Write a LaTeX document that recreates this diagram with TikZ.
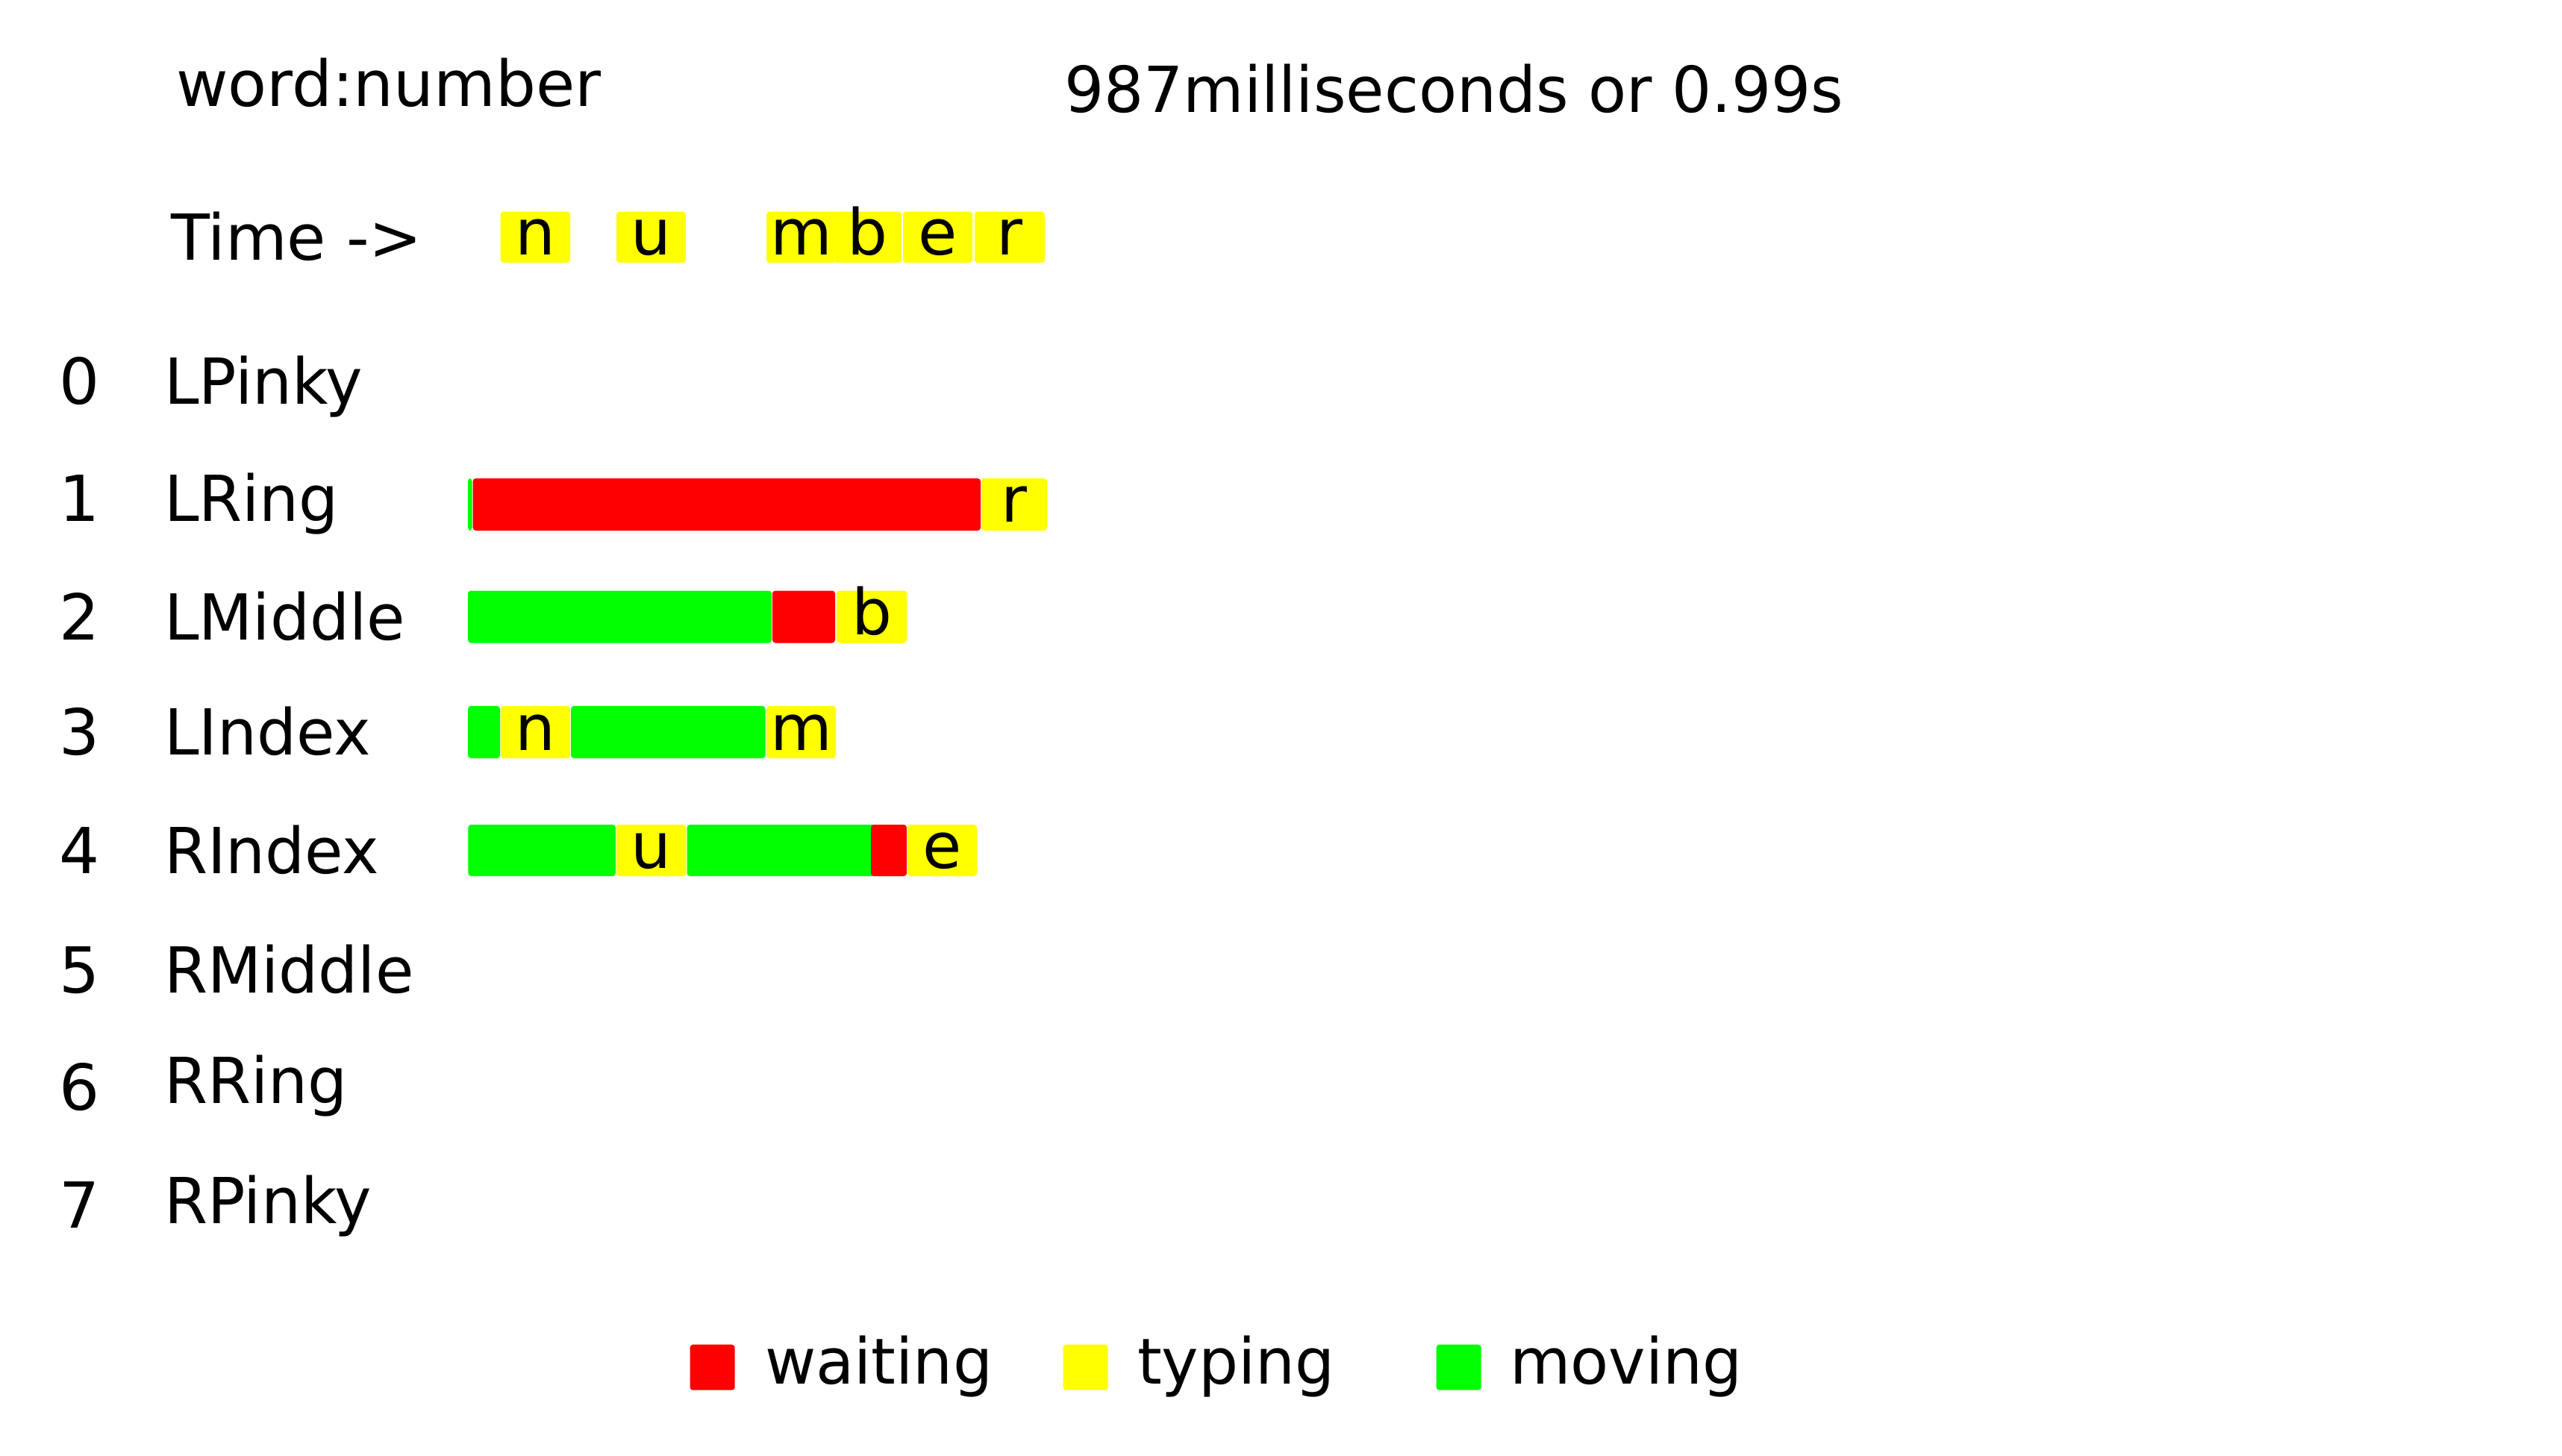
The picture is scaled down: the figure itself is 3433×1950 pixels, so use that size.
\documentclass[tikz,border=0pt]{standalone}
\usepackage{fontspec}
\setmainfont{DejaVu Sans}
\newfontfamily\narrowf{DejaVu Sans}[FakeStretch=0.984]
\definecolor{wred}{RGB}{255,0,0}
\definecolor{tyel}{RGB}{255,255,0}
\definecolor{mgrn}{RGB}{0,255,0}
\begin{document}
\begin{tikzpicture}[x=0.25pt,y=-0.25pt,
  txt/.style={inner sep=0pt,outer sep=0pt,font=\fontsize{21.25pt}{25pt}\selectfont},
  lbl/.style={txt,anchor=base west},
  nlbl/.style={lbl,font=\fontsize{21.25pt}{25pt}\narrowf},
  num/.style={txt,anchor=base},
  ltr/.style={txt,anchor=base},
  seg/.style={rounded corners=1pt},
  waitseg/.style={seg,fill=wred},
  typeseg/.style={seg,fill=tyel},
  moveseg/.style={seg,fill=mgrn}]
\useasboundingbox[fill=white] (0,0) rectangle (3433,1950);

% header
\node[lbl] (title) at (236,142) {word:number};
\node[nlbl] (dur) at (1426,150) {987milliseconds or 0.99s};
\node[lbl] (time) at (229,348) {Time ->};

% top time row
\fill[typeseg] (670.5,283.6) rectangle (764,352);
\node[ltr] (tn) at (717.25,341) {n};
\fill[typeseg] (826,283.6) rectangle (919,352);
\node[ltr] (tu) at (872.5,341) {u};
\fill[typeseg] (1117,283.6) rectangle (1208,352);
\fill[typeseg] (1027,283.6) rectangle (1120,352);
\node[ltr] (tm) at (1073.5,341) {m};
\node[ltr] (tb) at (1162.5,341) {b};
\fill[typeseg] (1210,283.6) rectangle (1303,352);
\node[ltr] (te) at (1256.5,341) {e};
\fill[typeseg] (1306,283.6) rectangle (1400,352);
\node[ltr] (tr) at (1353,341) {r};

% row labels
\node[num] (d0) at (107,541) {0};
\node[num] (d1) at (107,698) {1};
\node[num] (d2) at (107,857.6) {2};
\node[num] (d3) at (107,1011.6) {3};
\node[num] (d4) at (107,1170) {4};
\node[num] (d5) at (107,1330) {5};
\node[num] (d6) at (107,1487.5) {6};
\node[num] (d7) at (107,1645.5) {7};
\node[nlbl] (f0) at (220,541) {LPinky};
\node[nlbl] (f1) at (220,698) {LRing};
\node[nlbl] (f2) at (220,857.6) {LMiddle};
\node[nlbl] (f3) at (220,1011.6) {LIndex};
\node[nlbl] (f4) at (220,1170) {RIndex};
\node[nlbl] (f5) at (220,1330) {RMiddle};
\node[nlbl] (f6) at (220,1478.6) {RRing};
\node[nlbl] (f7) at (220,1639) {RPinky};

% LRing
\fill[moveseg] (627,641) rectangle (632.5,711);
\fill[waitseg] (633.5,641) rectangle (1314,711);
\fill[typeseg] (1315,641) rectangle (1403,711);
\node[ltr] (r1) at (1359,699) {r};

% LMiddle
\fill[moveseg] (627,791.5) rectangle (1034,861.5);
\fill[waitseg] (1035,791.5) rectangle (1119,861.5);
\fill[typeseg] (1121,791.5) rectangle (1215,861.5);
\node[ltr] (b2) at (1168,850.5) {b};

% LIndex
\fill[moveseg] (627,946) rectangle (670,1016);
\fill[typeseg] (671,946) rectangle (764,1016);
\node[ltr] (n3) at (717.5,1005) {n};
\fill[moveseg] (765,946) rectangle (1025.5,1016);
\fill[typeseg] (1027,946) rectangle (1120,1016);
\node[ltr] (m3) at (1073.5,1005) {m};

% RIndex
\fill[moveseg] (627.3,1105) rectangle (824.8,1174);
\fill[typeseg] (825.8,1105) rectangle (919.5,1174);
\node[ltr] (u4) at (872.6,1163) {u};
\fill[moveseg] (920.5,1105) rectangle (1174,1174);
\fill[waitseg] (1167,1105) rectangle (1215,1174);
\fill[typeseg] (1216,1105) rectangle (1309,1174);
\node[ltr] (e4) at (1262.5,1163) {e};

% legend
\fill[waitseg] (924.5,1801.7) rectangle (984.7,1862.7);
\node[nlbl] (lw) at (1025,1854) {waiting};
\fill[typeseg] (1424.5,1801.7) rectangle (1484.7,1862.7);
\node[nlbl] (lt) at (1524,1854) {typing};
\fill[moveseg] (1924.5,1801.7) rectangle (1984.7,1862.7);
\node[nlbl] (lm) at (2023,1854) {moving};
\end{tikzpicture}
\end{document}
